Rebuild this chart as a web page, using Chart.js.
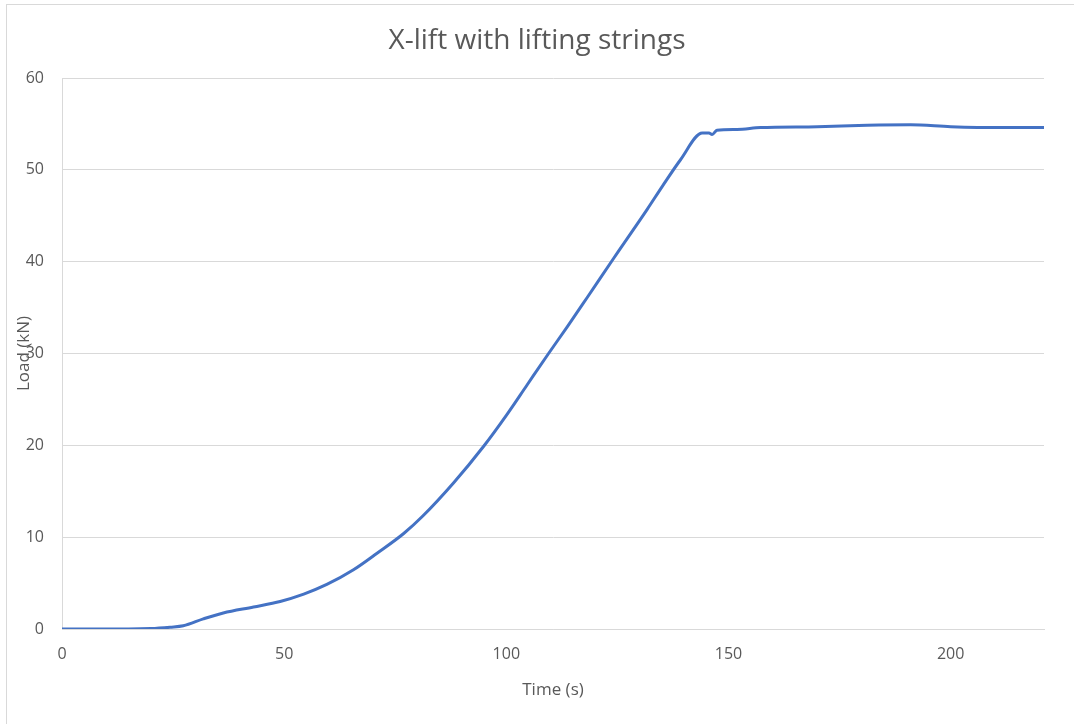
<!DOCTYPE html>
<html>
<head>
<meta charset="utf-8">
<script src="https://cdn.jsdelivr.net/npm/chart.js@4.4.1/dist/chart.umd.min.js"></script>
<style>
  html, body { margin: 0; padding: 0; background: #fff; overflow: hidden; }
  #frame { position: absolute; left: 6px; top: 4px; width: 1200px; height: 900px; border: 1px solid #d9d9d9; }
  #wrap { position: absolute; left: 0; top: 0; width: 1074px; height: 724px; }
</style>
</head>
<body>
<div id="frame"></div>
<div id="wrap"><canvas id="chart" width="1074" height="724"></canvas></div>
<script>
// Data (time in s, load in kN)
const timeS = [0, 5, 10, 15, 20, 24.3, 27.3, 31.8, 36.3, 43.1, 49.1, 54.4, 59.6, 65.6, 70.9, 76.9, 81.2,
  88.1, 94.9, 100.2, 104.7, 109.5, 113.7, 118.2, 124.2, 131.7, 135.1, 139.2, 144.1, 145.6, 146.3, 147.4,
  151.9, 157.2, 170, 181.2, 191, 200, 211.3, 221.4];
const loadKN = [0, 0, 0, 0, 0.05, 0.2, 0.35, 1.1, 1.75, 2.4, 3.0, 3.8, 4.85, 6.45, 8.25, 10.4, 12.3,
  15.9, 19.9, 23.4, 26.6, 30.0, 32.9, 36.1, 40.4, 45.7, 48.2, 51.1, 54.0, 54.0, 53.85, 54.3,
  54.4, 54.6, 54.7, 54.85, 54.9, 54.7, 54.6, 54.6];
const xTicks = [0, 50, 100, 150, 200];
const yTicks = [0, 10, 20, 30, 40, 50, 60];

const points = timeS.map((t, i) => ({ x: t, y: loadKN[i] }));
const grey = "#595959";
const font = "'Open Sans', 'Liberation Sans', sans-serif";

new Chart(document.getElementById("chart"), {
  type: "line",
  data: {
    datasets: [{
      label: "Load",
      data: points,
      borderColor: "#4472C4",
      borderWidth: 3,
      pointRadius: 0,
      cubicInterpolationMode: "monotone",
      fill: false
    }]
  },
  options: {
    responsive: false,
    animation: false,
    layout: { padding: 0 },
    plugins: {
      legend: { display: false },
      tooltip: { enabled: false },
      title: {
        display: true,
        text: "X-lift with lifting strings",
        color: grey,
        font: { family: font, size: 28, weight: "normal" },
        padding: { top: 24.2, bottom: 20.2 }
      }
    },
    scales: {
      x: {
        type: "linear",
        min: 0,
        max: 221,
        afterFit: s => { s.height = 95; },
        afterBuildTicks: s => { s.ticks = xTicks.map(v => ({ value: v })); },
        ticks: { color: grey, font: { family: font, size: 16 }, padding: 16, maxRotation: 0 },
        grid: { display: false, drawTicks: false },
        border: { display: true, color: "#d9d9d9" },
        title: { display: true, text: "Time (s)", color: grey, font: { family: font, size: 17 }, padding: { top: 0, bottom: 24 } }
      },
      y: {
        min: 0,
        max: 60,
        afterFit: s => { s.width = 62; },
        afterBuildTicks: s => { s.ticks = yTicks.map(v => ({ value: v })); },
        ticks: { color: grey, font: { family: font, size: 16 }, padding: 18 },
        grid: { color: "#d9d9d9", drawTicks: false },
        border: { display: true, color: "#d9d9d9" },
        title: { display: true, text: "Load (kN)", color: grey, font: { family: font, size: 17 }, padding: { top: 14, bottom: 0 } }
      },
      // empty right-hand axis only reserves the blank strip right of the plot
      yRight: {
        position: "right",
        display: true,
        afterFit: s => { s.width = 30; },
        ticks: { display: false },
        grid: { display: false, drawTicks: false },
        border: { display: false }
      }
    }
  }
});
</script>
</body>
</html>
